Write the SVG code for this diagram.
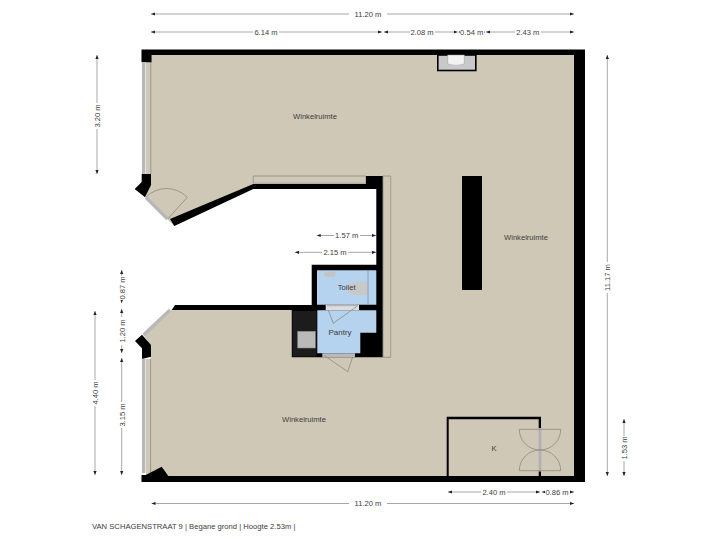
<svg xmlns="http://www.w3.org/2000/svg" width="720" height="540" viewBox="0 0 720 540">
<style>
text{font-family:"Liberation Sans",Arial,sans-serif;fill:#3c3c3c;font-size:7.6px;text-anchor:middle}
.d{stroke:#a8a8a8;stroke-width:1;fill:none;marker-start:url(#a);marker-end:url(#a)}
.w{fill:#000}
.l{fill:none;stroke:#8c8a80;stroke-width:.8}
.g{stroke:#b8b8b8;stroke-width:3.4;fill:none}
.b{fill:#b5d2ee}
.m{fill:#fff}
</style>
<defs><marker id="a" orient="auto-start-reverse" markerUnits="userSpaceOnUse" markerWidth="4" markerHeight="4" refX="4" refY="2"><path d="M0 .4L4 2L0 3.6z" fill="#222"/></marker></defs>
<rect width="720" height="540" fill="#fff"/>
<g id="floor">
<path d="M146 55H574V476H146V359H150.5V345L143.5 335L171 310H291.7V357H391V176H253.3V188.5L174 226L145.5 197L150.5 185V174H146V55Z" fill="#cfc8b6"/>
<path d="M253.3 176H366V183.3H253.3ZM383 176H390.7V357.3H383Z" fill="#cfc8b6" stroke="#8c8a80" stroke-width=".8"/>
<path class="l" d="M150.8 55V174M150.6 359V476"/>
</g>
<g id="walls">
<path class="w" d="M141.5 49.5H585V482H141.5V475H145.7L161.7 466.7L168.3 476H574V55H151.5V62.3H141.5Z"/>
<path class="w" d="M141.7 174H151V185L145 197.3L134.7 189L141.7 182Z"/>
<path class="w" d="M170 219L253.3 184H366V176H382.7V357.3H291.7V310H171.7L175 305H311.7V264.7H376.3V189H253.3L174.3 226Z"/>
<path class="w" d="M135 341L142 334.7L151 345V356.7L142 359V348.3Z"/>
<rect class="w" x="462" y="176" width="20" height="114"/>
<rect x="437.8" y="55" width="38" height="15.5" fill="#c9c9c9" stroke="#000" stroke-width="1.6"/>
<path d="M447.7 55H464.3V64Q456 67 447.7 64Z" fill="#f2f2f2" stroke="#999" stroke-width=".5"/>
<path class="w" d="M446.7 476V416.7H541V428.3H538.7V419.3H448.7V476ZM538.7 471.3H541V476H538.7Z"/>
</g>
<g id="rooms">
<path class="b" d="M317 270.3H376.3V304.7H317Z"/>
<path class="b" d="M317.3 310.3H376.3V332.7H360.3V353.3H317.3Z"/>
<rect x="292.5" y="311" width="24" height="45.5" fill="#1c1c1c"/>
<rect x="297.7" y="331.3" width="17.6" height="16.7" fill="#b9b9b9" stroke="#888" stroke-width=".6"/>
<rect x="324" y="271.7" width="11.7" height="5" rx="2.4" fill="#c4c4c4"/>
<path d="M367.3 281.7H358Q346.7 283 346.7 288.3Q346.7 294 358 295H367.3Z" fill="#c8c8c8"/>
<path d="M368 270.3V304.7" stroke="#7d95ad" stroke-width=".8"/>
</g>
<g id="openings">
<path class="g" d="M143.7 62.3V174M143.7 359V473M146 197.5L167.5 219M170 310L143.5 335"/>
<path class="l" d="M167.7 219L187.3 197.3A29 29 0 0 0 145.7 197.3"/>
<path stroke="#ddd" stroke-width="5.6" d="M325.7 307.5H359"/>
<path stroke="#b5b5b5" stroke-width="1.4" d="M327 305.5H358"/>
<path class="l" d="M328.3 310L333.3 323.3L357.3 306"/>
<path d="M322.3 355.3H355" stroke="#b9b9b9" stroke-width="4"/>
<path class="l" d="M324.3 355.5L347.7 371.7L352.7 356.7"/>
<path d="M540 428.3V471.3" stroke="#b0b0b0" stroke-width="2.6"/>
<path class="l" d="M519.3 429.3H560.7A20.7 20.7 0 0 1 519.3 429.3ZM519.3 470.7H560.7A20.7 20.7 0 0 0 519.3 470.7Z"/>
</g>
<g id="dimensions">
<path class="d" d="M151 14H574"/>
<path class="d" d="M151 32H382"/><path class="d" d="M384 32H457.5"/><path class="d" d="M458.5 32H485"/><path class="d" d="M486 32H574"/>
<path class="d" d="M607.3 55V476"/>
<path class="d" d="M624 419V476"/>
<path class="d" d="M97 55V174"/>
<path class="d" d="M95 311V475"/>
<path class="d" d="M121.7 358V475"/><path class="d" d="M121.7 309V353"/><path class="d" d="M121.7 270V303"/>
<path class="d" d="M316.7 235.5H376"/><path class="d" d="M295 252.3H376"/>
<path class="d" d="M151.5 503.5H574"/>
<path class="d" d="M448 492H540"/><path class="d" d="M541.7 492H574"/>
</g>
<g id="dimension-labels">
<rect class="m" x="349" y="9" width="38" height="10"/><rect class="m" x="253" y="27" width="26" height="10"/><rect class="m" x="410" y="27" width="25" height="10"/><rect class="m" x="460" y="27" width="24" height="10"/><rect class="m" x="515" y="27" width="26" height="10"/>
<rect class="m" x="602" y="262" width="11" height="31"/><rect class="m" x="619" y="436" width="10" height="25"/><rect class="m" x="92" y="103" width="10" height="26"/><rect class="m" x="90" y="380" width="10" height="26"/><rect class="m" x="116" y="402" width="11" height="26"/><rect class="m" x="116" y="317" width="11" height="28"/><rect class="m" x="116" y="276" width="11" height="24"/>
<rect class="m" x="334" y="230" width="26" height="10"/><rect class="m" x="322" y="247" width="26" height="10"/><rect class="m" x="349" y="498" width="38" height="10"/><rect class="m" x="481" y="487" width="26" height="10"/><rect class="m" x="545" y="487" width="25" height="10"/>
<text x="368" y="16.8">11.20 m</text><text x="266" y="34.8">6.14 m</text><text x="422" y="34.8">2.08 m</text><text x="471.7" y="34.8">0.54 m</text><text x="527.8" y="34.8">2.43 m</text>
<text transform="translate(610 277.5) rotate(-90)">11.17 m</text>
<text transform="translate(626.8 448) rotate(-90)">1.53 m</text>
<text transform="translate(99.8 116) rotate(-90)">3.20 m</text>
<text transform="translate(97.8 393) rotate(-90)">4.40 m</text>
<text transform="translate(124.5 415) rotate(-90)">3.15 m</text>
<text transform="translate(124.5 331) rotate(-90)">1.20 m</text>
<text transform="translate(124.5 288) rotate(-90)">0.87 m</text>
<text x="346.7" y="238.3">1.57 m</text><text x="335" y="255">2.15 m</text>
<text x="368" y="506.3">11.20 m</text><text x="494" y="494.8">2.40 m</text><text x="557" y="494.8">0.86 m</text>
</g>
<g id="room-labels">
<text x="315" y="119">Winkelruimte</text><text x="526" y="240">Winkelruimte</text><text x="304" y="422">Winkelruimte</text>
<text x="494" y="451">K</text><text x="346.7" y="290">Toilet</text><text x="340" y="335" style="font-size:8px">Pantry</text>
</g>
<text x="92" y="529" style="text-anchor:start;font-size:7.65px">VAN SCHAGENSTRAAT 9 | Begane grond | Hoogte 2.53m |</text>
</svg>
